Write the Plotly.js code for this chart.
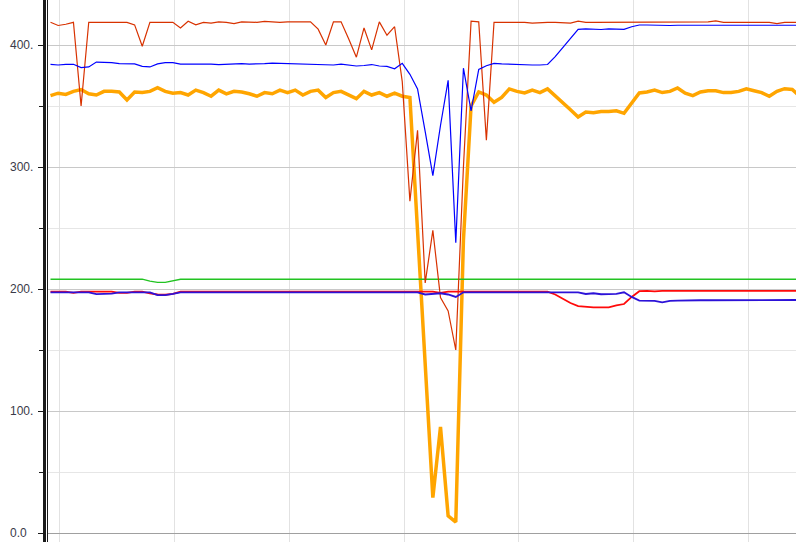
<!DOCTYPE html>
<html>
<head>
<meta charset="utf-8">
<script src="https://cdn.plot.ly/plotly-3.0.1.min.js"></script>
<style>
  html, body { margin: 0; padding: 0; background: #ffffff; }
  #chart { width: 796px; height: 542px; }
</style>
</head>
<body>
<div id="chart"></div>
<script>
// ---- data (sample index along x, values on y) ----
const redTop = [
  418.6, 416, 417, 418.6, 350, 418.6, 418.6, 418.6, 418.6, 419,
  418.6, 416.5, 399, 418.6, 418.6, 418.6, 418.6, 414, 419.5, 416.5,
  418.6, 418, 419, 418.6, 417.5, 419, 419, 418.6, 419.3, 419,
  418.6, 419, 419, 419.5, 419, 413, 400, 419, 419, 405,
  390, 414, 396, 419, 408, 415, 370, 272, 330, 205,
  248, 193, 182, 150, 300, 419.5, 419, 322, 418.6, 418.6,
  418.8, 418.6, 418.6, 418, 418.6, 418.6, 418.6, 418, 418, 419.5,
  418.6, 418.6, 418.6, 419.2, 418.6, 418.6, 418.6, 418.6, 418.6, 418.6,
  418.6, 418.6, 418.6, 418.6, 418.6, 418.6, 419, 419.8, 418.6, 418.6,
  418.6, 418.6, 418.6, 418.6, 418.6, 417.6, 418.6, 418.6, 418.6
];
const blueTop = [
  384.2, 383.6, 384.2, 384.2, 381.5, 382, 386, 386, 385.5, 384.8,
  384.8, 384.5, 382.5, 382, 384.5, 385.5, 385.5, 384.4, 384.4, 384.4,
  384.8, 384.4, 384, 384.4, 384.4, 384.8, 384.4, 384.4, 384.8, 385.2,
  385, 384.6, 384.4, 384.4, 384, 384.4, 384, 383.6, 384.4, 383.6,
  382.8, 383.2, 384, 382.8, 382.5, 380.5, 385, 376, 364, 329,
  293, 334, 371, 238, 381, 346, 380, 383, 385, 384.5,
  384.2, 383.8, 383.6, 383.6, 383.6, 384, 390.5, 398, 405.5, 412.8,
  413.3, 413, 412.7, 413.3, 413.3, 412.8, 415, 416.4, 416.4, 416.2,
  415.6, 416, 416.2, 416.2, 416.2, 416.2, 416.2, 416.2, 416.2, 416.2,
  416.2, 416.2, 416.2, 416.2, 416.2, 416.2, 416.2, 416.2, 416.2
];
const orange = [
  358.5, 360.5, 359.5, 362, 363.5, 360, 359, 362, 362, 361.5,
  355, 361.5, 361, 362, 365, 362, 360.5, 361, 359, 363,
  361, 358, 363, 360, 362, 361.5, 360, 358, 361, 360,
  363, 361, 363, 359, 362, 363, 357, 361, 362, 359,
  356, 362, 359, 361, 358, 360.5, 358, 357, 250, 140,
  29, 87, 14, 9, 240, 350, 361.5, 359, 353, 357,
  364, 362, 360.7, 363, 361, 364, 358.5, 353, 347, 341,
  345, 344.5, 345.5, 345.5, 346, 344, 352, 360.7, 361.5, 363,
  361, 362, 364.8, 360.5, 358.5, 361.5, 362.5, 362.5, 361, 361,
  362, 364, 362.5, 361, 358, 362, 364.2, 363.5, 358
];
const green = [
  208, 208, 208, 208, 208, 208, 208, 208, 208, 208,
  208, 208, 208, 206.5, 205.5, 205.5, 207, 208, 208, 208,
  208, 208, 208, 208, 208, 208, 208, 208, 208, 208,
  208, 208, 208, 208, 208, 208, 208, 208, 208, 208,
  208, 208, 208, 208, 208, 208, 208, 208, 208, 208,
  208, 208, 208, 208, 208, 208, 208, 208, 208, 208,
  208, 208, 208, 208, 208, 208, 208, 208, 208, 208,
  208, 208, 208, 208, 208, 208, 208, 208, 208, 208,
  208, 208, 208, 208, 208, 208, 208, 208, 208, 208,
  208, 208, 208, 208, 208, 208, 208, 208, 208
];
const redLow = [
  197.8, 197.8, 197.8, 196.8, 197.8, 197.8, 197.8, 197.8, 197.8, 196.8,
  196.8, 197.8, 197.8, 196.5, 195.5, 195.3, 196, 197.8, 197.8, 197.8,
  197.2, 197.8, 197.8, 197.8, 197.8, 197.8, 197.8, 197.8, 197.8, 197.8,
  197.8, 197.8, 197.8, 197.8, 197.8, 197.8, 197.8, 197.8, 197.8, 197.8,
  197.2, 197.8, 197.8, 197.8, 197.8, 197.8, 197.8, 197.8, 197.8, 197.8,
  197.8, 196.8, 197.8, 197.8, 197.8, 197.8, 197.8, 197.8, 197.8, 197.8,
  197.8, 197.8, 197.8, 197.8, 197.8, 197.8, 195.5, 192, 188.5, 186,
  185.3, 185, 185, 185, 186.5, 187.7, 193.5, 198.2, 198.4, 198,
  198.4, 198.4, 197.8, 198.4, 198.4, 198.4, 198, 198.4, 198.4, 198.4,
  198, 198.4, 198.4, 198.4, 198.4, 198.4, 198.4, 198.4, 198.4
];
const blueLow = [
  197.3, 197.3, 197.3, 197.3, 197.3, 197.3, 195.8, 195.8, 196.2, 197.3,
  197.3, 197.3, 197.3, 197.3, 195, 195, 196, 197.3, 197.3, 197.3,
  197.3, 197.3, 197.3, 197.3, 197.3, 197.3, 197.3, 197.3, 197.3, 197.3,
  197.3, 197.3, 197.3, 197.3, 197.3, 197.3, 197.3, 197.3, 197.3, 197.3,
  197.3, 197.3, 197.3, 197.3, 197.3, 197.3, 197.3, 197.3, 197.3, 195.5,
  196, 196.5, 195.5, 193.5, 197.3, 197.3, 197.3, 197.3, 197.3, 197.3,
  197.3, 197.3, 197.3, 197.3, 197.3, 197.3, 197.3, 197.3, 197.3, 197.3,
  195.9, 196.5, 195.7, 195.7, 196, 197.3, 193.5, 190.5, 190.3, 190.3,
  189, 190.2, 190.5, 190.8, 190.8, 190.8, 190.8, 190.8, 190.8, 190.8,
  191, 191, 191, 191, 191, 191, 191, 191, 191
];
const yTickVals = [0, 100, 200, 300, 400];
const yTickText = ['0.0', '100.', '200.', '300.', '400.'];

// sample index
const xs = orange.map((_, i) => i);

const yRange = [-7.377, 436.89];

function line(y, color, width, axis) {
  return {
    type: 'scatter', mode: 'lines', x: xs, y: y, yaxis: axis,
    line: { color: color, width: width, shape: 'linear' },
    hoverinfo: 'skip'
  };
}

const traces = [
  line(orange, '#ffa500', 3.5, 'y'),
  line(green, '#22c322', 1.3, 'y2'),
  line(redTop, '#d83200', 1.2, 'y2'),
  line(blueTop, '#0000ff', 1.2, 'y2'),
  line(redLow, '#ff0a0a', 1.8, 'y3'),
  line(blueLow, '#2c12d8', 1.8, 'y3')
];

const layout = {
  width: 796, height: 542,
  margin: { l: 0, r: 0, t: 0, b: 0, pad: 0 },
  paper_bgcolor: '#ffffff', plot_bgcolor: '#ffffff',
  showlegend: false,
  xaxis: {
    domain: [48 / 796, 1], range: [-0.327, 97.49],
    showgrid: true, gridcolor: '#e2e2e2', gridwidth: 1,
    tick0: 1.24, dtick: 15, ticks: '', showticklabels: false,
    zeroline: false, showline: false, automargin: false
  },
  yaxis: {
    range: yRange, tick0: 0, dtick: 100,
    showgrid: true, gridcolor: '#c8c8c8', gridwidth: 1,
    minor: { dtick: 50, tick0: 0, showgrid: true, gridcolor: '#e6e6e6', ticks: '' },
    zeroline: true, zerolinecolor: '#a0a0a0', zerolinewidth: 1,
    showline: true, linecolor: '#1a1a1a', linewidth: 1.5,
    ticks: '', showticklabels: false, automargin: false
  },
  yaxis2: {
    overlaying: 'y', anchor: 'free', position: 44 / 796, side: 'left',
    range: yRange, tick0: 0, dtick: 100,
    showgrid: false, zeroline: false,
    showline: true, linecolor: '#1a1a1a', linewidth: 3,
    ticks: 'outside', ticklen: 5, tickwidth: 1, tickcolor: '#1a1a1a',
    minor: { dtick: 50, tick0: 0, ticks: 'outside', ticklen: 4, tickwidth: 1, tickcolor: '#1a1a1a', showgrid: false },
    showticklabels: false, automargin: false
  },
  yaxis3: {
    overlaying: 'y', anchor: 'free', position: 6 / 796, side: 'left',
    range: yRange, tickmode: 'array', tickvals: yTickVals, ticktext: yTickText,
    showgrid: false, zeroline: false, showline: false, ticks: '',
    ticklabelposition: 'inside', ticklabeloverflow: 'allow',
    tickfont: { family: 'Liberation Sans, Arial, sans-serif', size: 12, color: '#3a3a48' },
    automargin: false
  }
};

Plotly.newPlot('chart', traces, layout, { displayModeBar: false, staticPlot: true });
</script>
</body>
</html>
